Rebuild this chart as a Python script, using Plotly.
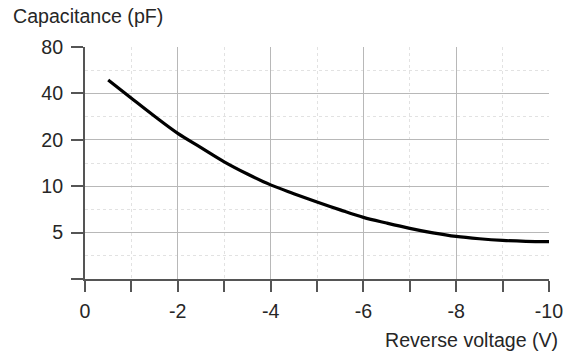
import plotly.graph_objects as go
import math

voltage = [-0.5, -1, -1.5, -2, -2.5, -3, -3.5, -4, -4.5, -5, -5.5, -6, -6.5, -7, -7.5, -8, -8.5, -9, -9.5, -10]
capacitance = [48.9, 37.2, 28.4, 22.0, 17.8, 14.4, 12.0, 10.2, 8.95, 7.9, 7.02, 6.28, 5.77, 5.33, 4.98, 4.72, 4.56, 4.45, 4.39, 4.37]

x_major = [0, -2, -4, -6, -8, -10]
x_major_text = ["0", "-2", "-4", "-6", "-8", "-10"]
x_minor = [-1, -3, -5, -7, -9]
y_major = [2.5, 5, 10, 20, 40, 80]
y_major_text = ["", "5", "10", "20", "40", "80"]
y_minor = [2.5 * math.sqrt(2), 5 * math.sqrt(2), 10 * math.sqrt(2), 20 * math.sqrt(2), 40 * math.sqrt(2)]

FONT = "Liberation Sans, Arial, sans-serif"
TXT = "#262626"
AX = "#555555"
FS = 19.6

fig = go.Figure()
fig.add_trace(go.Scatter(
    x=voltage, y=capacitance, mode="lines",
    line=dict(color="black", width=3.2, shape="spline", smoothing=1.0),
    showlegend=False, hoverinfo="skip",
))

fig.update_layout(
    width=576, height=352,
    margin=dict(l=85, r=27, t=47, b=73),
    paper_bgcolor="white", plot_bgcolor="white",
    font=dict(family=FONT, size=FS, color=TXT),
    xaxis=dict(
        range=[0, -10], tickmode="array", tickvals=x_major, ticktext=x_major_text,
        ticks="outside", ticklen=11, tickwidth=2, tickcolor=AX,
        showline=True, linecolor=AX, linewidth=2,
        showgrid=True, gridcolor="#b8b8b8", gridwidth=1.3,
        zeroline=False, tickfont=dict(size=FS, color=TXT),
        ticklabelstandoff=2, automargin=False,
        minor=dict(tickmode="array", tickvals=x_minor, ticks="outside", ticklen=11,
                   tickwidth=2, tickcolor=AX, showgrid=True, gridcolor="#e2e2e2",
                   griddash="dot", gridwidth=1),
    ),
    yaxis=dict(
        type="log", range=[math.log10(2.5), math.log10(80)],
        tickmode="array", tickvals=y_major, ticktext=y_major_text,
        ticks="outside", ticklen=12, tickwidth=2, tickcolor=AX,
        showline=True, linecolor=AX, linewidth=2,
        showgrid=True, gridcolor="#b8b8b8", gridwidth=1.3,
        zeroline=False, tickfont=dict(size=FS, color=TXT),
        ticklabelstandoff=4, automargin=False,
        minor=dict(tickmode="array", tickvals=y_minor, ticks="", showgrid=True,
                   gridcolor="#e2e2e2", griddash="dot", gridwidth=1),
    ),
    annotations=[
        dict(text="Capacitance (pF)", xref="paper", yref="paper",
             x=(11 - 85) / 464, y=1 + (47 - 16) / 232, xanchor="left", yanchor="middle",
             showarrow=False, font=dict(size=FS, color=TXT)),
        dict(text="Reverse voltage (V)", xref="paper", yref="paper",
             x=1 + (560 - 549) / 464, y=-(340 - 279) / 232, xanchor="right", yanchor="middle",
             showarrow=False, font=dict(size=FS, color=TXT)),
    ],
)

fig.write_html("out.html", config={"displayModeBar": False},
               post_script="document.body.style.margin='0';document.body.style.overflow='hidden';")
